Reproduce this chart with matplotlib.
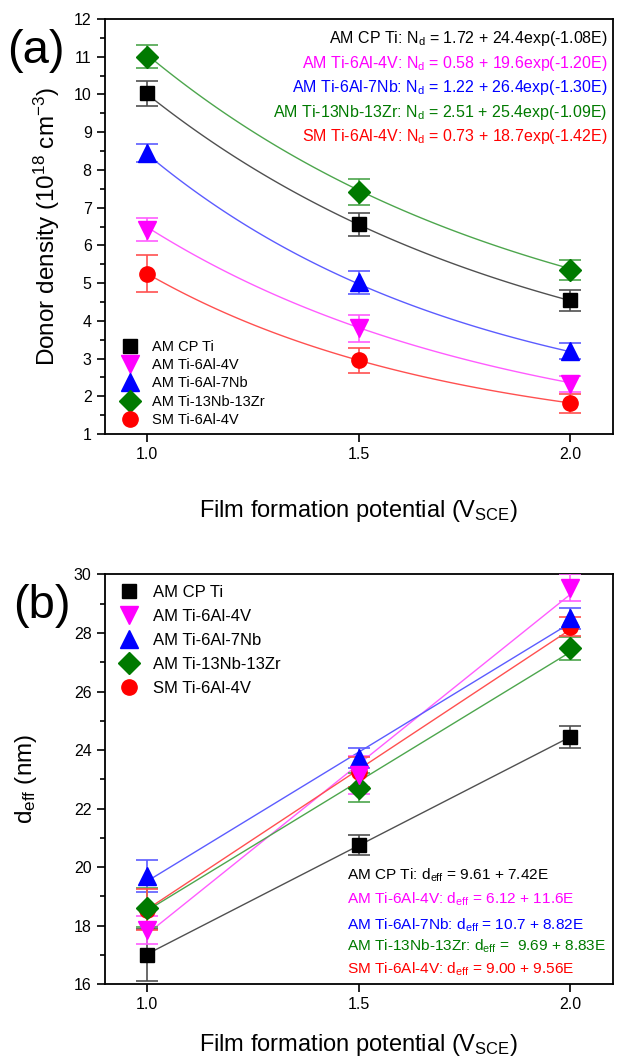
import numpy as np
import matplotlib
matplotlib.use('Agg')
import matplotlib.pyplot as plt

plt.rcParams['font.family'] = ['Liberation Sans', 'DejaVu Sans']
plt.rcParams['mathtext.default'] = 'regular'

# film formation potential (V_SCE)
potential = [1.0, 1.5, 2.0]
names = ['AM CP Ti', 'AM Ti-6Al-4V', 'AM Ti-6Al-7Nb', 'AM Ti-13Nb-13Zr', 'SM Ti-6Al-4V']
colors = ['black', '#ff00ff', '#0000ff', '#007a00', '#ff0000']
line_colors = ['#505050', '#ff5cff', '#5c5cff', '#4da64d', '#ff5050']
markers = ['s', 'v', '^', 'D', 'o']
msizes = [10, 13, 13, 11, 11]
marker_z = [4.4, 4.3, 4.2, 4.1, 4.0]

# (a) donor density, 10^18 cm^-3
nd_cp = [10.03, 6.56, 4.55]
nd_64 = [6.42, 3.80, 2.33]
nd_7nb = [8.45, 5.02, 3.20]
nd_zr = [11.00, 7.41, 5.34]
nd_sm = [5.25, 2.96, 1.82]
nd_err_cp = [0.33, 0.30, 0.28]
nd_err_64 = [0.30, 0.36, 0.22]
nd_err_7nb = [0.25, 0.31, 0.22]
nd_err_zr = [0.30, 0.34, 0.27]
nd_err_sm = [0.49, 0.33, 0.25]
# fit Nd = a + b*exp(-c*E)
nd_a = [1.72, 0.58, 1.22, 2.51, 0.73]
nd_b = [24.4, 19.6, 26.4, 25.4, 18.7]
nd_c = [1.08, 1.20, 1.30, 1.09, 1.42]

# (b) effective thickness, nm
d_cp = [17.0, 20.75, 24.45]
d_64 = [17.85, 23.15, 29.55]
d_7nb = [19.7, 23.72, 28.5]
d_zr = [18.62, 22.72, 27.48]
d_sm = [18.55, 23.25, 28.22]
d_err_cp = [0.90, 0.35, 0.38]
d_err_64 = [0.47, 0.65, 0.45]
d_err_7nb = [0.55, 0.35, 0.37]
d_err_zr = [0.65, 0.50, 0.40]
d_err_sm = [0.70, 0.50, 0.33]
# fit d = a + b*E
d_a = [9.61, 6.12, 10.7, 9.69, 9.00]
d_b = [7.42, 11.6, 8.82, 8.83, 9.56]

nd_eq = ['AM CP Ti: N$_d$ = 1.72 + 24.4exp(-1.08E)',
         'AM Ti-6Al-4V: N$_d$ = 0.58 + 19.6exp(-1.20E)',
         'AM Ti-6Al-7Nb: N$_d$ = 1.22 + 26.4exp(-1.30E)',
         'AM Ti-13Nb-13Zr: N$_d$ = 2.51 + 25.4exp(-1.09E)',
         'SM Ti-6Al-4V: N$_d$ = 0.73 + 18.7exp(-1.42E)']
d_eq = ['AM CP Ti: d$_{eff}$ = 9.61 + 7.42E',
        'AM Ti-6Al-4V: d$_{eff}$ = 6.12 + 11.6E',
        'AM Ti-6Al-7Nb: d$_{eff}$ = 10.7 + 8.82E',
        'AM Ti-13Nb-13Zr: d$_{eff}$ =  9.69 + 8.83E',
        'SM Ti-6Al-4V: d$_{eff}$ = 9.00 + 9.56E']

nd_vals = [nd_cp, nd_64, nd_7nb, nd_zr, nd_sm]
nd_errs = [nd_err_cp, nd_err_64, nd_err_7nb, nd_err_zr, nd_err_sm]
d_vals = [d_cp, d_64, d_7nb, d_zr, d_sm]
d_errs = [d_err_cp, d_err_64, d_err_7nb, d_err_zr, d_err_sm]

fig = plt.figure(figsize=(6.17, 10.56), dpi=100)
ax1 = fig.add_axes([0.170, 0.589, 0.823, 0.393])
ax2 = fig.add_axes([0.170, 0.068, 0.823, 0.388])

E = np.linspace(1.0, 2.0, 100)

for i in range(5):
    ax1.plot(E, nd_a[i] + nd_b[i] * np.exp(-nd_c[i] * E), color=line_colors[i], lw=1, zorder=2)
    ax1.errorbar(potential, nd_vals[i], yerr=nd_errs[i], fmt='none', ecolor=line_colors[i],
                 elinewidth=1.2, capsize=8, capthick=1.2, zorder=3)
    ax1.plot(potential, nd_vals[i], ls='none', marker=markers[i], ms=msizes[i],
             color=colors[i], label=names[i], zorder=marker_z[i])

    ax2.plot(E, d_a[i] + d_b[i] * E, color=line_colors[i], lw=1, zorder=2)
    ax2.errorbar(potential, d_vals[i], yerr=d_errs[i], fmt='none', ecolor=line_colors[i],
                 elinewidth=1.2, capsize=8, capthick=1.2, zorder=3)
    ax2.plot(potential, d_vals[i], ls='none', marker=markers[i], ms=msizes[i],
             color=colors[i], label=names[i], zorder=marker_z[i])

for ax in (ax1, ax2):
    ax.set_xlim(0.9, 2.1)
    ax.set_xticks([1.0, 1.5, 2.0])
    ax.set_xticklabels(['1.0', '1.5', '2.0'])
    ax.tick_params(which='both', direction='out', labelsize=11.5, width=1.2)
    ax.tick_params(which='major', length=6)
    ax.tick_params(which='minor', length=3.5)
    for s in ax.spines.values():
        s.set_linewidth(1.3)
    ax.set_xlabel('Film formation potential (V$_{SCE}$)', fontsize=17)

ax1.set_ylim(1, 12)
ax1.set_yticks(range(1, 13))
ax1.set_yticks(np.arange(1.5, 12, 1.0), minor=True)
ax1.set_ylabel('Donor density (10$^{18}$ cm$^{-3}$)', fontsize=17.5)
ax1.yaxis.set_label_coords(-0.085, 0.5)
ax1.xaxis.labelpad = 26

ax2.set_ylim(16, 30)
ax2.set_yticks(range(16, 31, 2))
ax2.set_yticks(range(17, 30, 2), minor=True)
ax2.set_ylabel('d$_{eff}$ (nm)', fontsize=17.5)
ax2.yaxis.set_label_coords(-0.13, 0.5)
ax2.xaxis.labelpad = 14

ax1.legend(loc='lower left', bbox_to_anchor=(0.0, -0.022), frameon=False, fontsize=10.5,
           labelspacing=0.3, handlelength=1.2, handletextpad=0.9, borderaxespad=0.7)
ax2.legend(loc='upper left', bbox_to_anchor=(0.0, 1.01), frameon=False, fontsize=12,
           labelspacing=0.55, handlelength=1.2, handletextpad=0.85, borderaxespad=0.45)

nd_y = [0.953, 0.893, 0.834, 0.775, 0.716]
for i in range(5):
    ax1.text(0.99, nd_y[i], nd_eq[i], transform=ax1.transAxes, ha='right', va='center',
             fontsize=11.5, color=colors[i])

d_y = [0.266, 0.207, 0.144, 0.093, 0.037]
for i in range(5):
    ax2.text(0.477, d_y[i], d_eq[i], transform=ax2.transAxes, ha='left', va='center',
             fontsize=11.1, color=colors[i])

fig.text(0.058, 0.952, '(a)', fontsize=34, ha='center', va='center')
fig.text(0.068, 0.426, '(b)', fontsize=34, ha='center', va='center')

fig.savefig('out.png', dpi=100)
